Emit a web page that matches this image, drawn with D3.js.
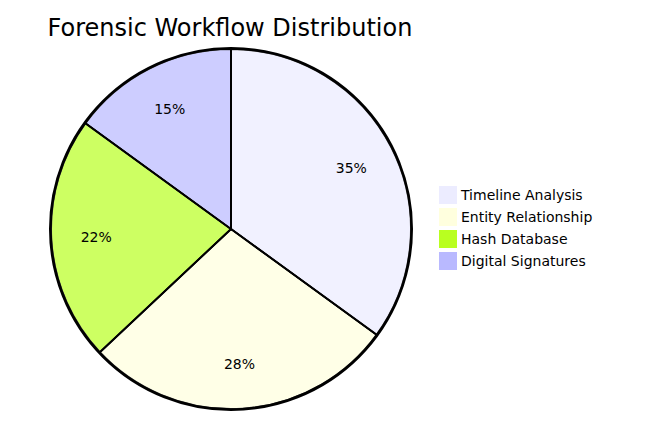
<!DOCTYPE html>
<html><head><meta charset="utf-8">
<script src="https://cdn.jsdelivr.net/npm/d3@7"></script>
<style>body{margin:0;background:#fff}</style>
</head><body>
<script>
var labels = ['Timeline Analysis', 'Entity Relationship', 'Hash Database', 'Digital Signatures'];
var values = [35, 28, 22, 15];
var colors = ['#ECECFF', '#ffffde', '#b9ff20', '#b9b9ff'];

var font = '"trebuchet ms", verdana, "DejaVu Sans", sans-serif';
var svg = d3.select('body').append('svg').attr('width', 645).attr('height', 433);
var cx = 231, cy = 229, r = 180;

svg.append('text').attr('x', 230).attr('y', 36).attr('text-anchor', 'middle')
    .attr('font-family', font).attr('font-size', 24).text('Forensic Workflow Distribution');

var g = svg.append('g').attr('transform', 'translate(' + cx + ',' + cy + ')');
var pie = d3.pie().sort(null);
var arcs = pie(values);
var arc = d3.arc().innerRadius(0).outerRadius(r);
var labelArc = d3.arc().innerRadius(r * 0.75).outerRadius(r * 0.75);
var total = d3.sum(values);

g.selectAll('path').data(arcs).enter().append('path')
    .attr('d', arc).attr('fill', (d, i) => colors[i]).attr('opacity', 0.7)
    .attr('stroke', 'black').attr('stroke-width', 2);
g.selectAll('path.s').data(arcs).enter().append('path')
    .attr('d', arc).attr('fill', 'none').attr('stroke', 'black').attr('stroke-width', 1.5);
g.append('circle').attr('r', r + 1).attr('fill', 'none').attr('stroke', 'black').attr('stroke-width', 2);

g.selectAll('text').data(arcs).enter().append('text')
    .attr('transform', d => 'translate(' + labelArc.centroid(d) + ')')
    .attr('text-anchor', 'middle').attr('dy', '0.35em')
    .attr('font-family', font).attr('font-size', 14)
    .text(d => Math.round(d.data / total * 100) + '%');

var leg = svg.selectAll('g.leg').data(labels).enter().append('g')
    .attr('transform', (d, i) => 'translate(439,' + (186 + i * 22) + ')');
leg.append('rect').attr('width', 18).attr('height', 18).attr('fill', (d, i) => colors[i]);
leg.append('text').attr('x', 22).attr('y', 14).attr('font-family', font).attr('font-size', 14).text(d => d);
</script>
</body></html>
